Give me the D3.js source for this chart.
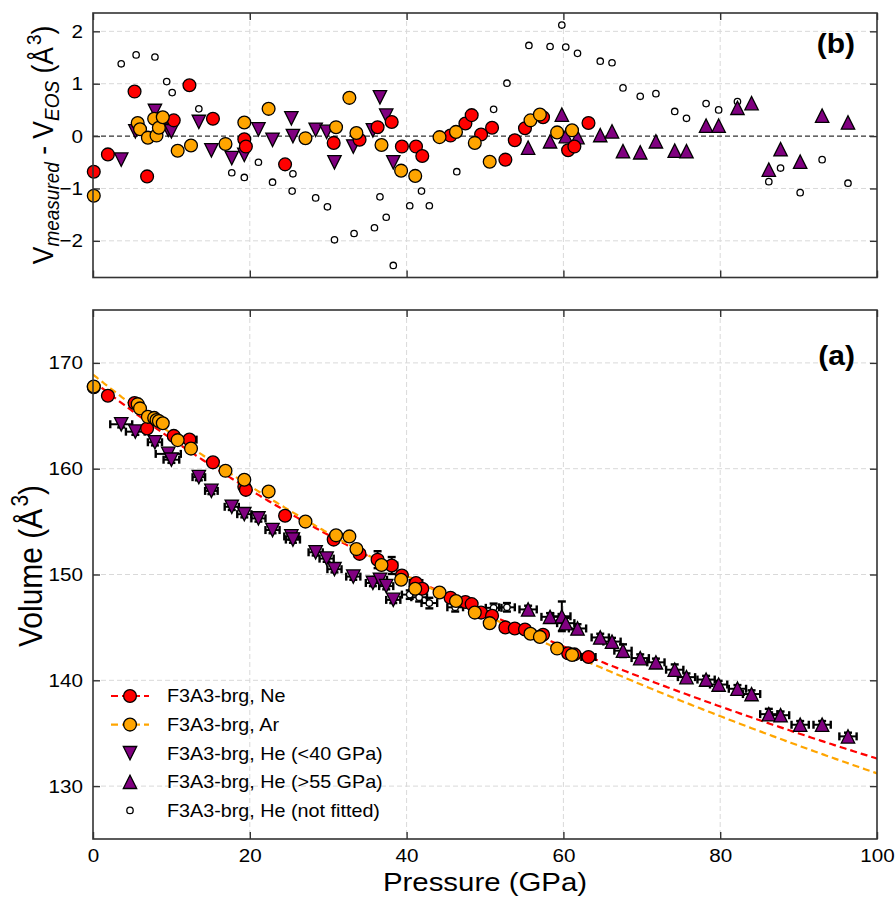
<!DOCTYPE html>
<html>
<head>
<meta charset="utf-8">
<script src="https://cdn.jsdelivr.net/npm/d3@7"></script>
<style>
  body { margin: 0; background: #fff; }
  svg { display: block; }
  text { font-family: "Liberation Sans", Arial, Helvetica, sans-serif; fill: #000; }
</style>
</head>
<body>
<svg id="fig" width="895" height="898"></svg>
<script>
// ---------------- Data ----------------
// Third-order Birch-Murnaghan fits: [V0 (Å^3), K0 (GPa), K0']
const eosNe = [168.3, 286, 3.3];
const eosAr = [168.9, 284, 2.84];

// Ne pressure medium
const neP    = [0.1, 1.9, 5.3, 6.9, 10.3, 12.3, 15.3, 19.3, 19.5, 24.5, 30.7, 34.0, 36.3, 38.1, 39.4, 41.2, 42.0, 45.6, 47.5, 48.3, 49.5, 50.9, 52.6, 53.8, 55.1, 57.4, 60.6, 61.4, 63.2];
const neV    = [167.7, 166.9, 166.2, 163.8, 163.1, 162.75, 160.6, 158.3, 158.0, 155.55, 153.3, 151.95, 151.4, 150.85, 149.9, 149.2, 148.65, 147.8, 147.4, 147.2, 146.4, 146.1, 145.0, 144.9, 144.8, 144.3, 142.55, 142.45, 142.2];
const neRes  = [-0.68, -0.35, 0.85, -0.77, 0.30, 0.97, 0.33, -0.06, -0.20, -0.54, -0.13, -0.07, 0.17, 0.27, -0.20, -0.20, -0.38, 0.01, 0.24, 0.40, 0.03, 0.16, -0.45, -0.08, 0.15, 0.36, -0.27, -0.20, 0.25];
const nePerr = [0.3, 0.5, 0.5, 0.5, 0.6, 0.9, 0.5, 0.5, 0.5, 0.6, 0.6, 0.6, 0.6, 0.7, 0.6, 0.8, 0.6, 0.6, 0.6, 0.6, 0.6, 0.6, 0.6, 0.6, 0.6, 0.6, 0.6, 0.6, 0.9];
const neVerr = [0.1, 0.2, 0.2, 0.2, 0.2, 0.3, 0.2, 0.2, 0.2, 0.3, 0.2, 0.3, 0.8, 0.8, 0.3, 0.4, 0.3, 0.2, 0.2, 0.2, 0.2, 0.2, 0.2, 0.2, 0.2, 0.2, 0.2, 0.2, 0.2];

// Ar pressure medium
const arP    = [0.1, 5.7, 6.0, 7.0, 7.8, 8.1, 8.4, 8.9, 10.8, 12.5, 16.9, 19.3, 22.4, 27.1, 31.0, 32.7, 33.6, 36.8, 39.3, 41.1, 44.2, 46.3, 48.7, 50.6, 55.8, 57.0, 59.2, 61.1];
const arV    = [167.77, 166.1, 165.7, 164.9, 164.8, 164.6, 164.5, 164.3, 162.7, 161.9, 159.8, 158.96, 157.85, 155.0, 153.7, 153.6, 152.4, 150.9, 149.5, 148.65, 148.3, 147.5, 146.4, 145.4, 144.4, 144.1, 143.0, 142.4];
const arRes  = [-1.14, 0.25, 0.13, -0.03, 0.33, 0.01, 0.16, 0.36, -0.28, -0.18, -0.15, 0.26, 0.52, -0.04, 0.17, 0.73, 0.06, -0.17, -0.66, -0.76, -0.02, 0.08, -0.13, -0.49, 0.30, 0.41, 0.07, 0.11];
const arPerr = [0.2, 0.4, 0.4, 0.4, 0.4, 0.4, 0.4, 0.4, 0.4, 0.5, 0.5, 0.5, 0.5, 0.5, 0.5, 0.5, 0.5, 0.5, 0.5, 0.5, 0.5, 0.5, 0.5, 0.5, 0.6, 0.6, 0.6, 0.6];
const arVerr = [0.1, 0.15, 0.15, 0.15, 0.15, 0.15, 0.15, 0.15, 0.2, 0.2, 0.2, 0.2, 0.2, 0.2, 0.2, 0.2, 0.2, 0.2, 0.2, 0.2, 0.2, 0.2, 0.2, 0.2, 0.2, 0.2, 0.2, 0.2];

// He pressure medium, below 40 GPa (fitted)
const heLoP    = [3.6, 5.4, 7.9, 9.6, 10.0, 13.5, 15.1, 17.7, 19.3, 21.1, 22.9, 25.3, 25.5, 28.4, 29.8, 30.8, 33.2, 35.7, 36.6, 37.4, 38.3];
const heLoV    = [164.2, 163.5, 162.5, 161.4, 160.85, 159.2, 157.9, 156.4, 155.7, 155.3, 154.2, 153.6, 153.3, 152.1, 151.5, 150.5, 149.8, 149.2, 149.5, 148.9, 147.6];
const heLoRes  = [-0.45, 0.09, 0.48, 0.12, 0.09, 0.27, -0.27, -0.42, -0.36, 0.13, -0.07, 0.34, 0.00, 0.12, 0.08, -0.50, -0.20, 0.11, 0.74, 0.39, -0.50];
const heLoPerr = [1.4, 1.2, 0.9, 1.6, 1.0, 0.8, 0.8, 0.9, 0.9, 0.9, 0.9, 0.9, 0.9, 0.9, 0.9, 0.9, 0.9, 0.9, 0.9, 0.9, 0.9];
const heLoVerr = [0.3, 0.3, 0.3, 0.3, 0.3, 0.3, 0.3, 0.3, 0.3, 0.3, 0.3, 0.3, 0.3, 0.3, 0.3, 0.3, 0.3, 0.3, 0.3, 0.3, 0.3];

// He pressure medium, above 55 GPa (fitted)
const heHiP    = [55.5, 58.3, 59.8, 60.3, 61.8, 64.7, 66.2, 67.6, 69.8, 71.8, 74.2, 75.7, 78.2, 79.8, 82.2, 84.0, 86.2, 87.7, 90.2, 93.0, 96.3];
const heHiV    = [146.7, 146.0, 146.05, 145.4, 144.9, 144.05, 143.66, 142.8, 142.1, 141.7, 141.0, 140.3, 140.07, 139.6, 139.2, 138.7, 136.8, 136.7, 135.8, 135.8, 134.7];
const heHiRes  = [-0.22, -0.10, 0.41, 0.00, -0.02, 0.02, 0.09, -0.29, -0.31, -0.10, -0.28, -0.29, 0.20, 0.20, 0.54, 0.63, -0.64, -0.25, -0.49, 0.39, 0.26];
const heHiPerr = [1.1, 1.1, 1.1, 1.1, 1.1, 1.1, 1.1, 1.1, 1.1, 1.1, 1.1, 1.1, 1.1, 1.1, 1.1, 1.1, 1.1, 1.1, 1.1, 1.1, 1.1];
const heHiVerr = [0.35, 0.35, 1.4, 0.5, 0.4, 0.35, 0.35, 0.6, 0.35, 0.35, 0.5, 0.35, 0.35, 0.35, 0.35, 0.35, 0.5, 0.35, 0.35, 0.35, 0.35];

// He pressure medium, points excluded from the fits
const nfP    = [40.4, 41.6, 42.9, 46.2, 51.1, 52.8];
const nfV    = [148.1, 147.85, 147.3, 146.9, 146.85, 146.9];
const nfPerr = [1.0, 1.0, 1.0, 1.0, 1.0, 1.0];
const nfVerr = [0.4, 0.4, 0.5, 0.4, 0.4, 0.4];
const nfResP = [3.6, 5.5, 7.9, 9.4, 10.1, 13.5, 17.7, 19.3, 21.1, 22.9, 25.5, 25.4, 28.4, 29.9, 30.8, 33.3, 35.9, 36.6, 37.4, 38.3, 40.4, 41.9, 42.9, 46.4, 51.1, 52.8, 55.6, 58.3, 59.8, 60.3, 61.8, 64.7, 66.2, 67.6, 69.8, 71.8, 74.2, 75.7, 78.2, 79.8, 82.2, 86.2, 87.7, 90.2, 93.0, 96.3];
const nfRes  = [1.38, 1.55, 1.51, 1.04, 0.83, 0.52, -0.70, -0.79, -0.50, -0.88, -0.72, -1.05, -1.18, -1.35, -1.98, -1.86, -1.75, -1.16, -1.55, -2.47, -1.33, -1.05, -1.33, -0.68, 0.51, 1.01, 1.73, 1.71, 2.12, 1.70, 1.58, 1.43, 1.40, 0.92, 0.76, 0.81, 0.47, 0.34, 0.62, 0.50, 0.66, -0.87, -0.61, -1.08, -0.45, -0.90];

// Axis ticks and legend text
const xTicks = [0, 20, 40, 60, 80, 100];
const resTicks = [-2, -1, 0, 1, 2];
const volTicks = [130, 140, 150, 160, 170];
const legendLabels = ["F3A3-brg, Ne", "F3A3-brg, Ar", "F3A3-brg, He (<40 GPa)", "F3A3-brg, He (>55 GPa)", "F3A3-brg, He (not fitted)"];

// ---------------- Layout ----------------
const RED = "#ff0000", ORANGE = "#ffa500", PURPLE = "#800080";
const SPINE = "#333";
const WIDE = 1.11;            // horizontal widening applied to all lettering
const L = 93, R = 877;
const svg = d3.select("#fig");

const x = d3.scaleLinear().domain([0, 100]).range([L, R]);
const yRes = d3.scaleLinear().domain([-2.7, 2.35]).range([277.5, 13]);
const yVol = d3.scaleLinear().domain([125, 175]).range([839, 310]);

const zip = (a, b, c, d) => a.map((v, i) => ({ p: v, v: b[i], pe: c ? c[i] : 0, ve: d ? d[i] : 0 }));

function frame(y, yt) {
  const [y0, y1] = y.range();
  const g = svg.append("g");
  g.append("g").selectAll("line").data(xTicks.slice(1, -1)).join("line")
    .attr("x1", d => x(d)).attr("x2", d => x(d)).attr("y1", y1).attr("y2", y0)
    .attr("stroke", "#d9d9d9").attr("stroke-width", 1).attr("stroke-dasharray", "5,3");
  g.append("g").selectAll("line").data(yt).join("line")
    .attr("x1", L).attr("x2", R).attr("y1", d => y(d)).attr("y2", d => y(d))
    .attr("stroke", "#d9d9d9").attr("stroke-width", 1).attr("stroke-dasharray", "5,3");
  return g;
}

function axes(y, yt, showX) {
  const [y0, y1] = y.range();
  const style = sel => {
    sel.select(".domain").remove();
    sel.selectAll(".tick line").attr("stroke", SPINE).attr("stroke-width", 1.4);
    sel.selectAll(".tick text").attr("fill", "#000").style("font-size", "18.6px");
  };
  const xb = svg.append("g").attr("transform", `translate(0,${y0})`)
    .call(d3.axisBottom(x).tickValues(xTicks).tickSize(-7).tickPadding(10).tickFormat(showX ? d3.format("d") : ""))
    .call(style);
  xb.selectAll(".tick text").attr("transform", `scale(${WIDE},1)`);
  svg.append("g").attr("transform", `translate(0,${y1})`)
    .call(d3.axisTop(x).tickValues(xTicks).tickSize(-7).tickFormat("")).call(style);
  const yl = svg.append("g").attr("transform", `translate(${L},0)`)
    .call(d3.axisLeft(y).tickValues(yt).tickSize(-7).tickPadding(9).tickFormat(d3.format("d")))
    .call(style);
  yl.selectAll(".tick text").attr("transform", `scale(${WIDE},1)`);
  svg.append("g").attr("transform", `translate(${R},0)`)
    .call(d3.axisRight(y).tickValues(yt).tickSize(-7).tickFormat("")).call(style);
  svg.append("rect").attr("x", L).attr("y", y1).attr("width", R - L).attr("height", y0 - y1)
    .attr("fill", "none").attr("stroke", SPINE).attr("stroke-width", 1.6);
}

const triDown = s => `M${-s},${-s}L${s},${-s}L0,${s}Z`;
const triUp = s => `M${-s},${s}L${s},${s}L0,${-s}Z`;

function errorbars(g, data, y) {
  const cap = 4;
  const eb = g.append("g").attr("stroke", "#000").attr("fill", "none");
  data.forEach(d => {
    const cx = x(d.p), cy = y(d.v);
    if (d.pe > 0) {
      const xa = x(d.p - d.pe), xb = x(d.p + d.pe);
      eb.append("line").attr("x1", xa).attr("x2", xb).attr("y1", cy).attr("y2", cy).attr("stroke-width", 2);
      [xa, xb].forEach(xx => eb.append("line").attr("x1", xx).attr("x2", xx)
        .attr("y1", cy - cap).attr("y2", cy + cap).attr("stroke-width", 2.4));
    }
    if (d.ve > 0) {
      const ya = y(d.v - d.ve), yb = y(d.v + d.ve);
      eb.append("line").attr("x1", cx).attr("x2", cx).attr("y1", ya).attr("y2", yb).attr("stroke-width", 2);
      [ya, yb].forEach(yy => eb.append("line").attr("y1", yy).attr("y2", yy)
        .attr("x1", cx - cap).attr("x2", cx + cap).attr("stroke-width", 2.4));
    }
  });
}

function markers(g, data, y, kind, fill) {
  const m = g.append("g");
  if (kind === "circle" || kind === "small") {
    m.selectAll("circle").data(data).join("circle")
      .attr("cx", d => x(d.p)).attr("cy", d => y(d.v))
      .attr("r", kind === "circle" ? 6.4 : 3.2)
      .attr("fill", fill).attr("stroke", "#000").attr("stroke-width", 1.3);
  } else {
    const path = kind === "down" ? triDown(6.7) : triUp(6.7);
    m.selectAll("path").data(data).join("path")
      .attr("transform", d => `translate(${x(d.p)},${y(d.v)})`)
      .attr("d", path).attr("fill", fill).attr("stroke", "#000")
      .attr("stroke-width", 1.3).attr("stroke-linejoin", "miter");
  }
}

// ---------------- Panel (b): residuals ----------------
frame(yRes, resTicks.filter(d => d !== 0));
svg.append("line").attr("x1", L).attr("x2", R).attr("y1", yRes(0)).attr("y2", yRes(0))
  .attr("stroke", "#333").attr("stroke-width", 1.4).attr("stroke-dasharray", "5,3");
{
  const g = svg.append("g");
  markers(g, zip(nfResP, nfRes), yRes, "small", "#fff");
  markers(g, zip(heLoP, heLoRes), yRes, "down", PURPLE);
  markers(g, zip(heHiP, heHiRes), yRes, "up", PURPLE);
  markers(g, zip(neP, neRes), yRes, "circle", RED);
  markers(g, zip(arP, arRes), yRes, "circle", ORANGE);
}
axes(yRes, resTicks, false);

// ---------------- Panel (a): volumes ----------------
frame(yVol, volTicks);

// Birch-Murnaghan pressure for a given volume
function bm3(V, [V0, K0, Kp]) {
  const e = Math.pow(V0 / V, 2 / 3);
  return 1.5 * K0 * (Math.pow(e, 3.5) - Math.pow(e, 2.5)) * (1 + 0.75 * (Kp - 4) * (e - 1));
}
function eosCurve(par) {
  const pts = [];
  for (let V = par[0]; V > par[0] * 0.7; V -= 0.05) {
    const P = bm3(V, par);
    pts.push([P, V]);
    if (P > 100) break;
  }
  return pts;
}
svg.append("clipPath").attr("id", "clipA").append("rect")
  .attr("x", L).attr("y", 310).attr("width", R - L).attr("height", 529);
const line = d3.line().x(d => x(d[0])).y(d => yVol(d[1]));
const curves = svg.append("g").attr("clip-path", "url(#clipA)");
curves.append("path").datum(eosNe).attr("d", d => line(eosCurve(d)))
  .attr("fill", "none").attr("stroke", RED).attr("stroke-width", 2.2).attr("stroke-dasharray", "7,4");
curves.append("path").datum(eosAr).attr("d", d => line(eosCurve(d)))
  .attr("fill", "none").attr("stroke", ORANGE).attr("stroke-width", 2.2).attr("stroke-dasharray", "7,4");

{
  const g = svg.append("g");
  const nf = zip(nfP, nfV, nfPerr, nfVerr);
  const lo = zip(heLoP, heLoV, heLoPerr, heLoVerr);
  const hi = zip(heHiP, heHiV, heHiPerr, heHiVerr);
  const ne = zip(neP, neV, nePerr, neVerr);
  const ar = zip(arP, arV, arPerr, arVerr);
  errorbars(g, nf, yVol); markers(g, nf, yVol, "small", "#fff");
  errorbars(g, lo, yVol); markers(g, lo, yVol, "down", PURPLE);
  errorbars(g, hi, yVol); markers(g, hi, yVol, "up", PURPLE);
  errorbars(g, ne, yVol); markers(g, ne, yVol, "circle", RED);
  errorbars(g, ar, yVol); markers(g, ar, yVol, "circle", ORANGE);
}
axes(yVol, volTicks, true);

// ---------------- Legend ----------------
{
  const lg = svg.append("g");
  const kinds = ["circle", "circle", "down", "up", "small"];
  const fills = [RED, ORANGE, PURPLE, PURPLE, "#fff"];
  const lines = [RED, ORANGE, null, null, null];
  legendLabels.forEach((t, i) => {
    const yy = 696 + i * 28.6;
    const row = lg.append("g").attr("transform", `translate(130,${yy})`);
    if (lines[i]) row.append("line").attr("x1", -19).attr("x2", 19).attr("y1", 0).attr("y2", 0)
      .attr("stroke", lines[i]).attr("stroke-width", 2.2).attr("stroke-dasharray", "7,4");
    const k = kinds[i];
    if (k === "circle" || k === "small") {
      row.append("circle").attr("r", k === "circle" ? 6.4 : 3.2).attr("fill", fills[i])
        .attr("stroke", "#000").attr("stroke-width", 1.3);
    } else {
      row.append("path").attr("d", k === "down" ? triDown(6.7) : triUp(6.7)).attr("fill", fills[i])
        .attr("stroke", "#000").attr("stroke-width", 1.3);
    }
    row.append("text").attr("transform", `translate(37,0) scale(${WIDE},1)`).attr("dy", "0.36em")
      .style("font-size", "17.8px").text(t);
  });
}

// ---------------- Labels ----------------
svg.append("text").attr("transform", `translate(855,53) scale(${WIDE},1)`).attr("text-anchor", "end")
  .style("font-size", "27px").style("font-weight", "bold").text("(b)");
svg.append("text").attr("transform", `translate(855,365) scale(${WIDE},1)`).attr("text-anchor", "end")
  .style("font-size", "27px").style("font-weight", "bold").text("(a)");

svg.append("text").attr("transform", `translate(${x(50)},891) scale(${WIDE},1)`).attr("text-anchor", "middle")
  .style("font-size", "26.5px").text("Pressure (GPa)");

{
  const t = svg.append("text").attr("transform", `translate(42,566) rotate(-90) scale(1,${WIDE})`)
    .attr("text-anchor", "middle").style("font-size", "30px");
  t.append("tspan").text("Volume (Å");
  t.append("tspan").attr("dx", "0.1em").attr("dy", "-0.6em").style("font-size", "21px").text("3");
  t.append("tspan").attr("dy", "0.42em").text(")");
}
{
  const t = svg.append("text").attr("transform", `translate(53,145) rotate(-90) scale(1,${WIDE})`)
    .attr("text-anchor", "middle").style("font-size", "26.5px");
  t.append("tspan").text("V");
  t.append("tspan").attr("dy", "0.3em").style("font-size", "19px").style("font-style", "italic").text("measured");
  t.append("tspan").attr("dy", "-0.21em").text(" - V");
  t.append("tspan").attr("dy", "0.3em").style("font-size", "19px").style("font-style", "italic").text("EOS");
  t.append("tspan").attr("dy", "-0.21em").text(" (Å");
  t.append("tspan").attr("dx", "0.1em").attr("dy", "-0.6em").style("font-size", "19px").text("3");
  t.append("tspan").attr("dy", "0.42em").text(")");
}
</script>
</body>
</html>
